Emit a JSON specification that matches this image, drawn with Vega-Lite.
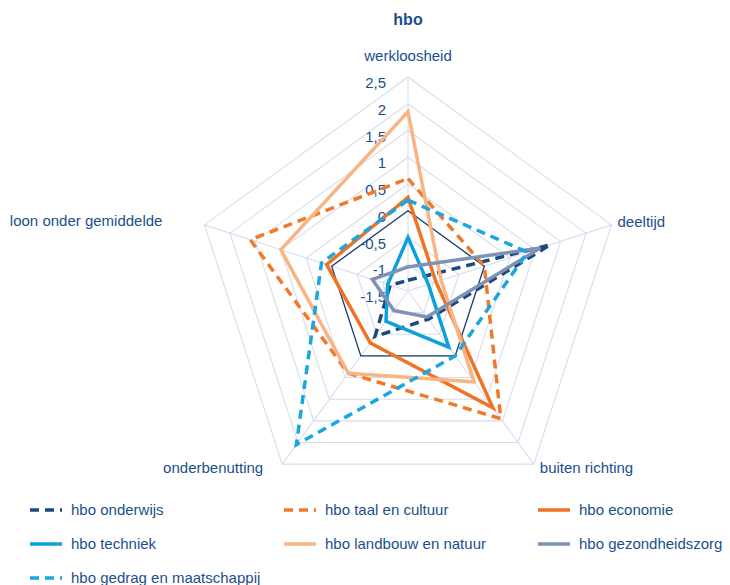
{
  "$schema": "https://vega.github.io/schema/vega-lite/v6.json",
  "width": 730,
  "height": 585,
  "autosize": {"type": "none"},
  "padding": 0,
  "background": "white",
  "config": {
    "view": {"stroke": null},
    "font": "Liberation Sans, Arial, sans-serif",
    "legend": {
      "orient": "none",
      "direction": "horizontal",
      "legendX": 28,
      "legendY": 492,
      "columns": 3,
      "gridAlign": "all",
      "columnPadding": 16,
      "rowPadding": 8,
      "labelFont": "Liberation Sans, Arial, sans-serif",
      "labelFontSize": 15,
      "labelColor": "#1B4F8C",
      "labelOffset": 7,
      "symbolType": "stroke",
      "symbolSize": 1024,
      "symbolStrokeWidth": 3.5,
      "labelLimit": 300
    }
  },
  "datasets": {
    "series": [
      {"series": "hbo onderwijs", "axis": "werkloosheid", "k": 0, "value": -1.3},
      {"series": "hbo onderwijs", "axis": "deeltijd", "k": 1, "value": 1.3},
      {"series": "hbo onderwijs", "axis": "buiten richting", "k": 2, "value": -0.85},
      {"series": "hbo onderwijs", "axis": "onderbenutting", "k": 3, "value": -0.45},
      {"series": "hbo onderwijs", "axis": "loon onder gemiddelde", "k": 4, "value": -1.15},
      {"series": "hbo taal en cultuur", "axis": "werkloosheid", "k": 0, "value": 0.6},
      {"series": "hbo taal en cultuur", "axis": "deeltijd", "k": 1, "value": 0.0},
      {"series": "hbo taal en cultuur", "axis": "buiten richting", "k": 2, "value": 1.45},
      {"series": "hbo taal en cultuur", "axis": "onderbenutting", "k": 3, "value": 0.4},
      {"series": "hbo taal en cultuur", "axis": "loon onder gemiddelde", "k": 4, "value": 1.6},
      {"series": "hbo economie", "axis": "werkloosheid", "k": 0, "value": 0.25},
      {"series": "hbo economie", "axis": "deeltijd", "k": 1, "value": -0.95},
      {"series": "hbo economie", "axis": "buiten richting", "k": 2, "value": 1.2},
      {"series": "hbo economie", "axis": "onderbenutting", "k": 3, "value": -0.3},
      {"series": "hbo economie", "axis": "loon onder gemiddelde", "k": 4, "value": 0.1},
      {"series": "hbo techniek", "axis": "werkloosheid", "k": 0, "value": -0.5},
      {"series": "hbo techniek", "axis": "deeltijd", "k": 1, "value": -1.1},
      {"series": "hbo techniek", "axis": "buiten richting", "k": 2, "value": -0.2},
      {"series": "hbo techniek", "axis": "onderbenutting", "k": 3, "value": -0.8},
      {"series": "hbo techniek", "axis": "loon onder gemiddelde", "k": 4, "value": -1.1},
      {"series": "hbo landbouw en natuur", "axis": "werkloosheid", "k": 0, "value": 1.85},
      {"series": "hbo landbouw en natuur", "axis": "deeltijd", "k": 1, "value": -0.85},
      {"series": "hbo landbouw en natuur", "axis": "buiten richting", "k": 2, "value": 0.6},
      {"series": "hbo landbouw en natuur", "axis": "onderbenutting", "k": 3, "value": 0.4},
      {"series": "hbo landbouw en natuur", "axis": "loon onder gemiddelde", "k": 4, "value": 1.0},
      {"series": "hbo gezondheidszorg", "axis": "werkloosheid", "k": 0, "value": -1.05},
      {"series": "hbo gezondheidszorg", "axis": "deeltijd", "k": 1, "value": 1.1},
      {"series": "hbo gezondheidszorg", "axis": "buiten richting", "k": 2, "value": -0.9},
      {"series": "hbo gezondheidszorg", "axis": "onderbenutting", "k": 3, "value": -1.05},
      {"series": "hbo gezondheidszorg", "axis": "loon onder gemiddelde", "k": 4, "value": -0.8},
      {"series": "hbo gedrag en maatschappij", "axis": "werkloosheid", "k": 0, "value": 0.2},
      {"series": "hbo gedrag en maatschappij", "axis": "deeltijd", "k": 1, "value": 0.85},
      {"series": "hbo gedrag en maatschappij", "axis": "buiten richting", "k": 2, "value": 0.0},
      {"series": "hbo gedrag en maatschappij", "axis": "onderbenutting", "k": 3, "value": 2.05},
      {"series": "hbo gedrag en maatschappij", "axis": "loon onder gemiddelde", "k": 4, "value": 0.2}
    ],
    "rings": [
      {"level": -1, "k": [0, 1, 2, 3, 4]},
      {"level": -0.5, "k": [0, 1, 2, 3, 4]},
      {"level": 0, "k": [0, 1, 2, 3, 4]},
      {"level": 0.5, "k": [0, 1, 2, 3, 4]},
      {"level": 1, "k": [0, 1, 2, 3, 4]},
      {"level": 1.5, "k": [0, 1, 2, 3, 4]},
      {"level": 2, "k": [0, 1, 2, 3, 4]},
      {"level": 2.5, "k": [0, 1, 2, 3, 4]}
    ],
    "axes": [
      {"axis": "werkloosheid", "k": 0},
      {"axis": "deeltijd", "k": 1},
      {"axis": "buiten richting", "k": 2},
      {"axis": "onderbenutting", "k": 3},
      {"axis": "loon onder gemiddelde", "k": 4}
    ],
    "ticks": [
      {"value": 2.5, "label": "2,5"},
      {"value": 2, "label": "2"},
      {"value": 1.5, "label": "1,5"},
      {"value": 1, "label": "1"},
      {"value": 0.5, "label": "0,5"},
      {"value": 0, "label": "0"},
      {"value": -0.5, "label": "-0,5"},
      {"value": -1, "label": "-1"},
      {"value": -1.5, "label": "-1,5"}
    ]
  },
  "layer": [
    {
      "data": {"name": "rings"},
      "transform": [
        {"flatten": ["k"]},
        {"calculate": "datum.level + 1.5", "as": "r"},
        {"calculate": "datum.r * sin(datum.k * 2 * PI / 5)", "as": "x"},
        {"calculate": "datum.r * cos(datum.k * 2 * PI / 5)", "as": "y"}
      ],
      "mark": {"type": "line", "interpolate": "linear-closed", "stroke": "#D8DDEC", "strokeWidth": 1.1},
      "encoding": {
        "x": {"field": "x", "type": "quantitative", "axis": null, "scale": {"domain": [-7.6262, 6.0187], "zero": false, "nice": false}},
        "y": {"field": "y", "type": "quantitative", "axis": null, "scale": {"domain": [-5.4953, 5.4393], "zero": false, "nice": false}},
        "detail": {"field": "level", "type": "nominal"},
        "order": {"field": "k", "type": "quantitative"}
      }
    },
    {
      "data": {"name": "axes"},
      "transform": [
        {"calculate": "0", "as": "x0"},
        {"calculate": "0", "as": "y0"},
        {"calculate": "4 * sin(datum.k * 2 * PI / 5)", "as": "x"},
        {"calculate": "4 * cos(datum.k * 2 * PI / 5)", "as": "y"}
      ],
      "mark": {"type": "rule", "stroke": "#D8DDEC", "strokeWidth": 1.1},
      "encoding": {
        "x": {"field": "x0", "type": "quantitative", "axis": null, "scale": {"domain": [-7.6262, 6.0187], "zero": false, "nice": false}},
        "y": {"field": "y0", "type": "quantitative", "axis": null, "scale": {"domain": [-5.4953, 5.4393], "zero": false, "nice": false}},
        "x2": {"field": "x"},
        "y2": {"field": "y"}
      }
    },
    {
      "data": {"name": "rings"},
      "transform": [
        {"filter": "datum.level == 0"},
        {"flatten": ["k"]},
        {"calculate": "datum.level + 1.5", "as": "r"},
        {"calculate": "datum.r * sin(datum.k * 2 * PI / 5)", "as": "x"},
        {"calculate": "datum.r * cos(datum.k * 2 * PI / 5)", "as": "y"}
      ],
      "mark": {"type": "line", "interpolate": "linear-closed", "stroke": "#1A3F70", "strokeWidth": 1.3},
      "encoding": {
        "x": {"field": "x", "type": "quantitative", "axis": null, "scale": {"domain": [-7.6262, 6.0187], "zero": false, "nice": false}},
        "y": {"field": "y", "type": "quantitative", "axis": null, "scale": {"domain": [-5.4953, 5.4393], "zero": false, "nice": false}},
        "order": {"field": "k", "type": "quantitative"}
      }
    },
    {
      "data": {"name": "ticks"},
      "transform": [
        {"calculate": "0", "as": "x"},
        {"calculate": "datum.value + 1.5", "as": "y"}
      ],
      "mark": {"type": "text", "align": "right", "baseline": "middle", "dx": -22, "dy": 6, "fontSize": 15, "color": "#1B4F8C"},
      "encoding": {
        "x": {"field": "x", "type": "quantitative", "axis": null, "scale": {"domain": [-7.6262, 6.0187], "zero": false, "nice": false}},
        "y": {"field": "y", "type": "quantitative", "axis": null, "scale": {"domain": [-5.4953, 5.4393], "zero": false, "nice": false}},
        "text": {"field": "label", "type": "nominal"}
      }
    },
    {
      "data": {"name": "series"},
      "transform": [
        {"calculate": "datum.value + 1.5", "as": "r"},
        {"calculate": "datum.r * sin(datum.k * 2 * PI / 5)", "as": "x"},
        {"calculate": "datum.r * cos(datum.k * 2 * PI / 5)", "as": "y"}
      ],
      "mark": {"type": "line", "interpolate": "linear-closed", "strokeWidth": 3.5},
      "encoding": {
        "x": {"field": "x", "type": "quantitative", "axis": null, "scale": {"domain": [-7.6262, 6.0187], "zero": false, "nice": false}},
        "y": {"field": "y", "type": "quantitative", "axis": null, "scale": {"domain": [-5.4953, 5.4393], "zero": false, "nice": false}},
        "order": {"field": "k", "type": "quantitative"},
        "color": {
          "field": "series",
          "type": "nominal",
          "scale": {
            "domain": ["hbo onderwijs", "hbo taal en cultuur", "hbo economie", "hbo techniek", "hbo landbouw en natuur", "hbo gezondheidszorg", "hbo gedrag en maatschappij"],
            "range": ["#1C4A7E", "#F07A2A", "#EE7326", "#0EA0DC", "#F8B483", "#7F92B6", "#1AA7DF"]
          },
          "legend": {"title": null}
        },
        "strokeDash": {
          "field": "series",
          "type": "nominal",
          "scale": {
            "domain": ["hbo onderwijs", "hbo taal en cultuur", "hbo economie", "hbo techniek", "hbo landbouw en natuur", "hbo gezondheidszorg", "hbo gedrag en maatschappij"],
            "range": [[9, 6], [9, 6], [1, 0], [1, 0], [1, 0], [1, 0], [9, 6]]
          },
          "legend": {"title": null}
        }
      }
    },
    {
      "data": {"name": "axes"},
      "transform": [
        {"filter": "datum.k == 0"},
        {"calculate": "4 * sin(datum.k * 2 * PI / 5)", "as": "x"},
        {"calculate": "4 * cos(datum.k * 2 * PI / 5)", "as": "y"}
      ],
      "mark": {"type": "text", "align": "center", "baseline": "middle", "dy": -21, "fontSize": 15, "color": "#1B4F8C"},
      "encoding": {
        "x": {"field": "x", "type": "quantitative", "axis": null, "scale": {"domain": [-7.6262, 6.0187], "zero": false, "nice": false}},
        "y": {"field": "y", "type": "quantitative", "axis": null, "scale": {"domain": [-5.4953, 5.4393], "zero": false, "nice": false}},
        "text": {"field": "axis", "type": "nominal"}
      }
    },
    {
      "data": {"name": "axes"},
      "transform": [
        {"filter": "datum.k == 0"},
        {"calculate": "4 * sin(datum.k * 2 * PI / 5)", "as": "x"},
        {"calculate": "4 * cos(datum.k * 2 * PI / 5)", "as": "y"},
        {"calculate": "'hbo'", "as": "title"}
      ],
      "mark": {"type": "text", "align": "center", "baseline": "middle", "dy": -57, "fontSize": 16, "fontWeight": "bold", "color": "#1B4F8C"},
      "encoding": {
        "x": {"field": "x", "type": "quantitative", "axis": null, "scale": {"domain": [-7.6262, 6.0187], "zero": false, "nice": false}},
        "y": {"field": "y", "type": "quantitative", "axis": null, "scale": {"domain": [-5.4953, 5.4393], "zero": false, "nice": false}},
        "text": {"field": "title", "type": "nominal"}
      }
    },
    {
      "data": {"name": "axes"},
      "transform": [
        {"filter": "datum.k == 1"},
        {"calculate": "4 * sin(datum.k * 2 * PI / 5)", "as": "x"},
        {"calculate": "4 * cos(datum.k * 2 * PI / 5)", "as": "y"}
      ],
      "mark": {"type": "text", "align": "left", "baseline": "middle", "dx": 6, "dy": -3, "fontSize": 15, "color": "#1B4F8C"},
      "encoding": {
        "x": {"field": "x", "type": "quantitative", "axis": null, "scale": {"domain": [-7.6262, 6.0187], "zero": false, "nice": false}},
        "y": {"field": "y", "type": "quantitative", "axis": null, "scale": {"domain": [-5.4953, 5.4393], "zero": false, "nice": false}},
        "text": {"field": "axis", "type": "nominal"}
      }
    },
    {
      "data": {"name": "axes"},
      "transform": [
        {"filter": "datum.k == 2"},
        {"calculate": "4 * sin(datum.k * 2 * PI / 5)", "as": "x"},
        {"calculate": "4 * cos(datum.k * 2 * PI / 5)", "as": "y"}
      ],
      "mark": {"type": "text", "align": "left", "baseline": "middle", "dx": 6, "dy": 4, "fontSize": 15, "color": "#1B4F8C"},
      "encoding": {
        "x": {"field": "x", "type": "quantitative", "axis": null, "scale": {"domain": [-7.6262, 6.0187], "zero": false, "nice": false}},
        "y": {"field": "y", "type": "quantitative", "axis": null, "scale": {"domain": [-5.4953, 5.4393], "zero": false, "nice": false}},
        "text": {"field": "axis", "type": "nominal"}
      }
    },
    {
      "data": {"name": "axes"},
      "transform": [
        {"filter": "datum.k == 3"},
        {"calculate": "4 * sin(datum.k * 2 * PI / 5)", "as": "x"},
        {"calculate": "4 * cos(datum.k * 2 * PI / 5)", "as": "y"}
      ],
      "mark": {"type": "text", "align": "right", "baseline": "middle", "dx": -19, "dy": 4, "fontSize": 15, "color": "#1B4F8C"},
      "encoding": {
        "x": {"field": "x", "type": "quantitative", "axis": null, "scale": {"domain": [-7.6262, 6.0187], "zero": false, "nice": false}},
        "y": {"field": "y", "type": "quantitative", "axis": null, "scale": {"domain": [-5.4953, 5.4393], "zero": false, "nice": false}},
        "text": {"field": "axis", "type": "nominal"}
      }
    },
    {
      "data": {"name": "axes"},
      "transform": [
        {"filter": "datum.k == 4"},
        {"calculate": "4 * sin(datum.k * 2 * PI / 5)", "as": "x"},
        {"calculate": "4 * cos(datum.k * 2 * PI / 5)", "as": "y"}
      ],
      "mark": {"type": "text", "align": "right", "baseline": "middle", "dx": -42, "dy": -4, "fontSize": 15, "color": "#1B4F8C"},
      "encoding": {
        "x": {"field": "x", "type": "quantitative", "axis": null, "scale": {"domain": [-7.6262, 6.0187], "zero": false, "nice": false}},
        "y": {"field": "y", "type": "quantitative", "axis": null, "scale": {"domain": [-5.4953, 5.4393], "zero": false, "nice": false}},
        "text": {"field": "axis", "type": "nominal"}
      }
    }
  ]
}
